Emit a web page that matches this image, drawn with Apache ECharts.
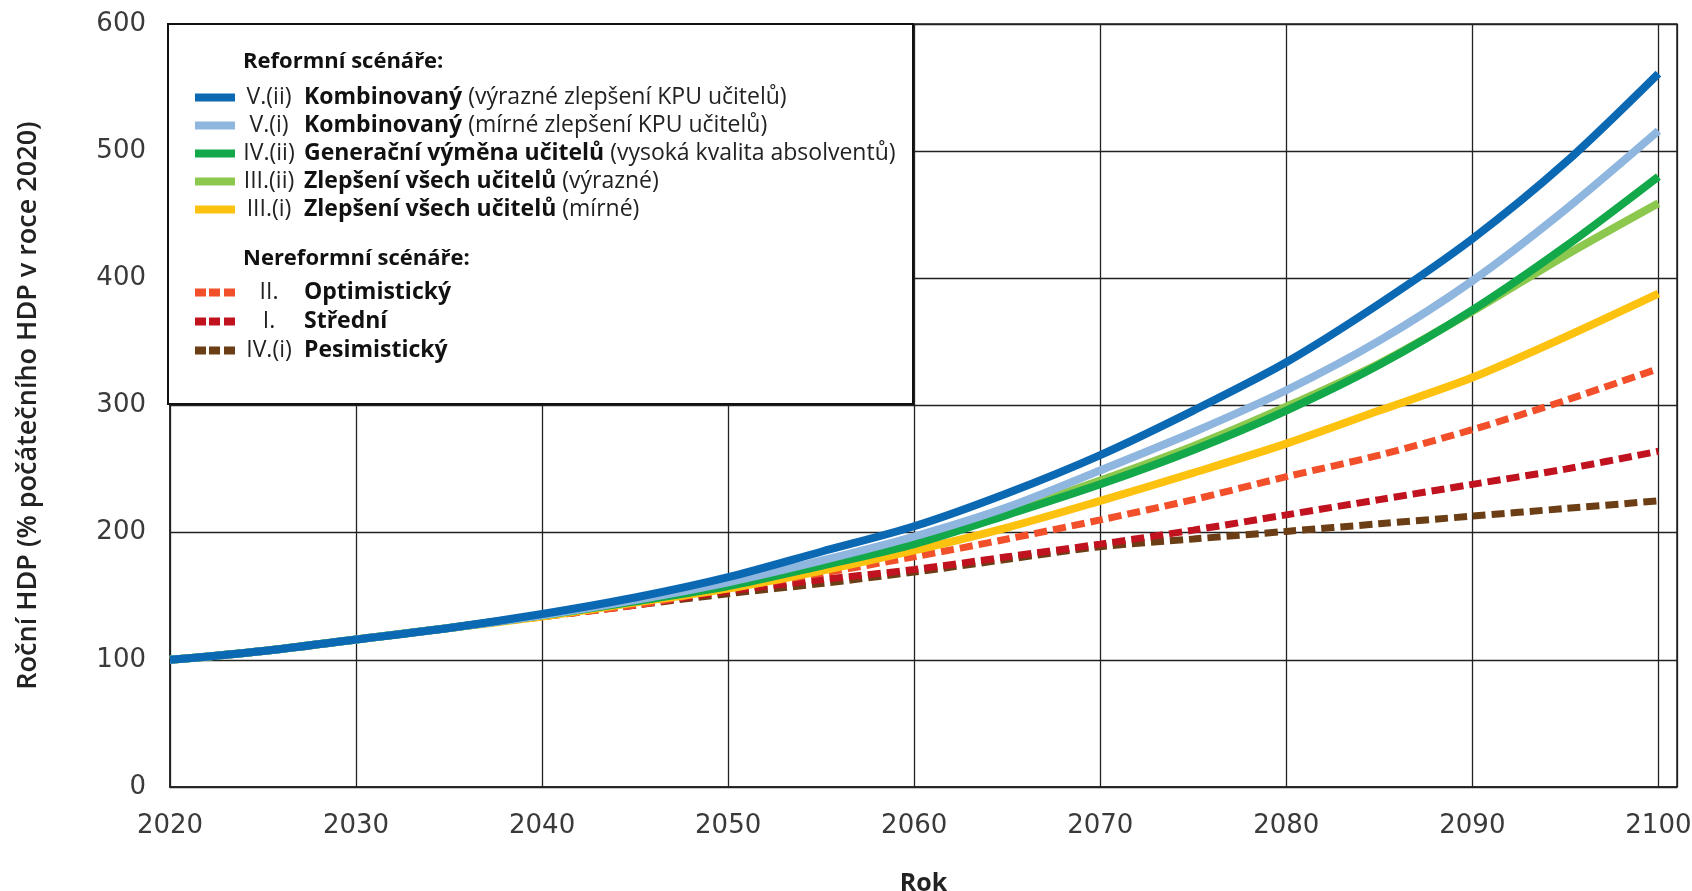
<!DOCTYPE html>
<html>
<head>
<meta charset="utf-8">
<script src="https://cdn.jsdelivr.net/npm/echarts@6/dist/echarts.min.js"></script>
<style>html,body{margin:0;padding:0;background:#fff}#c{width:1692px;height:891px}</style>
</head>
<body>
<div id="c"></div>
<script>
// ---- data ----
const years = [2020,2025,2030,2035,2040,2045,2050,2055,2060,2065,2070,2075,2080,2085,2090,2095,2100];
const v5ii  = [100,107,116,125,136,149,165,185,205,231,261,296,334,380,431,491,561];
const v5i   = [100,107,116,125,135,147,161,178,197,220,249,279,312,351,398,454,516];
const v4ii  = [100,107,116,125,135,146,158,174,191,214,238,265,296,332,375,425,480];
const v3ii  = [100,107,116,125,135,146,159,175,193,216,241,268,299,333,374,418,459];
const v3i   = [100,107,116,125,134,145,156,170,186,204,225,247,270,296,322,354,388];
const v2    = [100,107,116,125,134,143,156,168,181,195,210,226,244,261,281,304,329];
const v1    = [100,107,116,125,134,143,154,163,171,181,191,202,214,226,238,250,264];
const v4i   = [100,107,116,125,134,143,152,160,169,179,189,195,201,207,213,219,225];

const yTicks = [0,100,200,300,400,500,600];
const xTicks = [2020,2030,2040,2050,2060,2070,2080,2090,2100];

const reformNames = ['V.(ii)','V.(i)','IV.(ii)','III.(ii)','III.(i)'];
const reformBold  = ['Kombinovaný','Kombinovaný','Generační výměna učitelů','Zlepšení všech učitelů','Zlepšení všech učitelů'];
const reformNote  = ['(výrazné zlepšení KPU učitelů)','(mírné zlepšení KPU učitelů)','(vysoká kvalita absolventů)','(výrazné)','(mírné)'];
const nonNames = ['II.','I.','IV.(i)'];
const nonBold  = ['Optimistický','Střední','Pesimistický'];

const headerReform = 'Reformní scénáře:';
const headerNon = 'Nereformní scénáře:';
const xName = 'Rok';
const yName = 'Roční HDP (% počátečního HDP v roce 2020)';

// ---- build ----
const FONT = 'Open Sans';
const reformColors = ['#0b69b4','#8fb6de','#13a84a','#8cc84e','#fdc20f'];
const nonColors = ['#f2502a','#c1121f','#6b3e15'];
const reformVals = [v5ii, v5i, v4ii, v3ii, v3i];
const nonVals = [v2, v1, v4i];

const reformKeys = reformNames.map((p,i)=>p + ' ' + reformBold[i] + ' ' + reformNote[i]);
const nonKeys = nonNames.map((p,i)=>p + ' ' + nonBold[i]);
const fmtMap = {};
reformKeys.forEach((k,i)=>{ fmtMap[k] = '{p|' + reformNames[i] + '}{b| ' + reformBold[i] + '}{n| ' + reformNote[i] + '}'; });
nonKeys.forEach((k,i)=>{ fmtMap[k] = '{p|' + nonNames[i] + '}{b| ' + nonBold[i] + '}'; });

const pairs = v => years.map((y,i)=>[y, v[i]]);

const series = [];
[2,1,0].forEach(i=>{
  series.push({
    name: nonKeys[i], type: 'line', data: pairs(nonVals[i]), smooth: 0.3,
    showSymbol: false, symbol: 'none', z: 2,
    itemStyle: {color: nonColors[i]},
    lineStyle: {color: nonColors[i], width: 7, type: [13, 6]}
  });
});
[4,3,2,1,0].forEach(i=>{
  series.push({
    name: reformKeys[i], type: 'line', data: pairs(reformVals[i]), smooth: 0.3,
    showSymbol: false, symbol: 'none', z: 3,
    itemStyle: {color: reformColors[i]},
    lineStyle: {color: reformColors[i], width: 8}
  });
});

const FS = 23;
const rich = {
  p: {fontFamily: FONT, fontSize: FS, color: '#222', width: 58, align: 'right', lineHeight: 24},
  b: {fontFamily: FONT, fontSize: FS, fontWeight: 'bold', color: '#111', lineHeight: 24},
  n: {fontFamily: FONT, fontSize: FS, color: '#222', lineHeight: 24}
};
const solidIcon = 'path://M0,0h40v8h-40z';
const dashIcon = 'path://M0,0h11v8h-11z M14,0h11v8h-11z M29,0h11v8h-11z';

const chart = echarts.init(document.getElementById('c'), null, {renderer: 'canvas'});
chart.setOption({
  animation: false,
  backgroundColor: '#fff',
  grid: {left: 170, right: 15, top: 24, bottom: 104, outerBoundsMode: 'none', containLabel: false,
    show: true, borderColor: '#222', borderWidth: 1.5, backgroundColor: 'transparent'},
  xAxis: {
    type: 'value', min: 2020, max: 2101, interval: 10,
    name: xName, nameLocation: 'middle', nameGap: 84,
    nameTextStyle: {fontFamily: FONT, fontWeight: 'bold', fontSize: 25, color: '#222'},
    axisLine: {show: true, lineStyle: {color: '#222', width: 1.5}},
    axisTick: {show: false},
    axisLabel: {margin: 26, fontFamily: 'DejaVu Sans', fontSize: 26, color: '#3a3a3a',
      formatter: v => xTicks.indexOf(v) >= 0 ? String(v) : ''},
    splitLine: {show: true, lineStyle: {color: '#222', width: 1.3}}
  },
  yAxis: {
    type: 'value', min: 0, max: 600, interval: 100,
    name: yName, nameLocation: 'middle', nameGap: 128,
    nameTextStyle: {fontFamily: FONT, fontWeight: 600, fontSize: 27, color: '#222'},
    axisLine: {show: true, lineStyle: {color: '#222', width: 1.5}},
    axisTick: {show: false},
    axisLabel: {margin: 24, fontFamily: 'DejaVu Sans', fontSize: 26, color: '#3a3a3a',
      formatter: v => yTicks.indexOf(v) >= 0 ? String(v) : ''},
    splitLine: {show: true, lineStyle: {color: '#222', width: 1.3}}
  },
  graphic: [
    {type: 'rect', z: 10, shape: {x: 168, y: 24, width: 745, height: 380},
     style: {fill: '#fff', stroke: '#111', lineWidth: 2}},
    {type: 'text', z: 11, x: 243, y: 62,
     style: {text: headerReform, font: 'bold 22px "Open Sans"', fill: '#111', verticalAlign: 'middle'}},
    {type: 'text', z: 11, x: 243, y: 259,
     style: {text: headerNon, font: 'bold 22px "Open Sans"', fill: '#111', verticalAlign: 'middle'}}
  ],
  legend: [
    {
      z: 20, orient: 'vertical', left: 195, top: 86, padding: 0, itemGap: 5,
      itemWidth: 40, itemHeight: 8, selectedMode: false,
      data: reformKeys.map(k=>({name: k, icon: solidIcon})),
      formatter: n => fmtMap[n],
      textStyle: {fontFamily: FONT, fontSize: FS, color: '#222', rich: rich}
    },
    {
      z: 20, orient: 'vertical', left: 195, top: 281, padding: 0, itemGap: 6,
      itemWidth: 40, itemHeight: 8, selectedMode: false,
      data: nonKeys.map(k=>({name: k, icon: dashIcon})),
      formatter: n => fmtMap[n],
      textStyle: {fontFamily: FONT, fontSize: FS, color: '#222', rich: rich}
    }
  ],
  series: series
});
</script>
</body>
</html>
